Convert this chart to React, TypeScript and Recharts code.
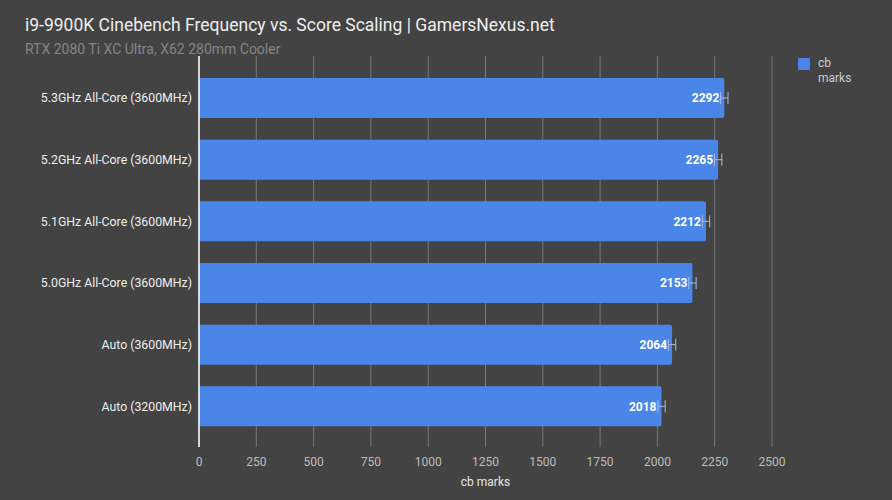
import React from "react";
import {
  BarChart,
  Bar,
  XAxis,
  YAxis,
  CartesianGrid,
  ErrorBar,
  LabelList,
} from "recharts";

const categories = [
  "5.3GHz All-Core (3600MHz)",
  "5.2GHz All-Core (3600MHz)",
  "5.1GHz All-Core (3600MHz)",
  "5.0GHz All-Core (3600MHz)",
  "Auto (3600MHz)",
  "Auto (3200MHz)",
];
const scores = [2292, 2265, 2212, 2153, 2064, 2018];
const errors = [16, 16, 16, 16, 16, 16];
const xTicks = [0, 250, 500, 750, 1000, 1250, 1500, 1750, 2000, 2250, 2500];

const data = categories.map((name, i) => ({
  name,
  score: scores[i],
  err: errors[i],
}));

const BG = "#434343";
const FONT = "Roboto, 'Noto Sans', sans-serif";

export default function App() {
  return (
    <div
      style={{
        position: "fixed",
        left: 0,
        top: 0,
        width: 892,
        height: 500,
        background: BG,
        fontFamily: FONT,
      }}
    >
      <div
        style={{
          position: "absolute",
          left: 25,
          top: 15,
          fontSize: 17.5,
          color: "#eeeeee",
          whiteSpace: "nowrap",
        }}
      >
        i9-9900K Cinebench Frequency vs. Score Scaling | GamersNexus.net
      </div>
      <div
        style={{
          position: "absolute",
          left: 25,
          top: 41,
          fontSize: 14,
          color: "#858585",
          whiteSpace: "nowrap",
        }}
      >
        RTX 2080 Ti XC Ultra, X62 280mm Cooler
      </div>
      <div
        style={{
          position: "absolute",
          left: 798,
          top: 58,
          width: 12,
          height: 12,
          background: "#4a86e8",
          borderRadius: 1,
        }}
      />
      <div
        style={{
          position: "absolute",
          left: 818,
          top: 56,
          fontSize: 12,
          lineHeight: "15px",
          color: "#cccccc",
        }}
      >
        cb
        <br />
        marks
      </div>
      <div style={{ position: "absolute", left: 0, top: 0 }}>
        <BarChart
          width={892}
          height={500}
          data={data}
          layout="vertical"
          margin={{ top: 56, right: 120, bottom: 0, left: 0 }}
        >
          <CartesianGrid
            horizontal={false}
            stroke="#777777"
            strokeWidth={1}
          />
          <XAxis
            type="number"
            domain={[0, 2500]}
            ticks={xTicks}
            interval={0}
            height={53}
            axisLine={false}
            tickLine={false}
            tickSize={8}
            tick={{ fill: "#bdbdbd", fontSize: 12, fontFamily: FONT }}
            label={{
              value: "cb marks",
              position: "insideBottom",
              offset: 14,
              fill: "#e6e6e6",
              fontSize: 12,
              fontFamily: FONT,
            }}
          />
          <YAxis
            type="category"
            dataKey="name"
            width={199}
            padding={{ top: 11, bottom: 10 }}
            axisLine={{ stroke: "#ffffff", strokeWidth: 1.5 }}
            tickLine={false}
            tickSize={5}
            tickMargin={2}
            tick={{ fill: "#eeeeee", fontSize: 12.3, fontFamily: FONT }}
          />
          <Bar
            dataKey="score"
            fill="#4a86e8"
            barSize={40}
            radius={[0, 2, 2, 0]}
            isAnimationActive={false}
          >
            <LabelList
              dataKey="score"
              position="insideRight"
              offset={5}
              fill="#ffffff"
              fontSize={12}
              fontWeight="bold"
              fontFamily={FONT}
            />
            <ErrorBar
              dataKey="err"
              direction="x"
              width={6}
              stroke="#a9bbe0"
              strokeWidth={1}
              isAnimationActive={false}
            />
          </Bar>
        </BarChart>
      </div>
    </div>
  );
}
